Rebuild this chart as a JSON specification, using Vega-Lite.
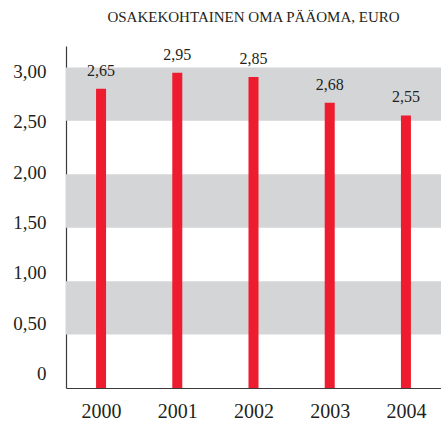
{
  "$schema": "https://vega.github.io/schema/vega-lite/v6.json",
  "width": 375,
  "height": 342,
  "autosize": {"type": "none"},
  "padding": {"left": 66, "top": 46, "right": 0, "bottom": 33},
  "background": "white",
  "config": {
    "view": {"stroke": null},
    "font": "Liberation Serif",
    "text": {"font": "Liberation Serif"}
  },
  "title": {
    "text": "OSAKEKOHTAINEN OMA PÄÄOMA, EURO",
    "font": "Liberation Serif",
    "fontSize": 15,
    "fontWeight": "normal",
    "color": "#231F20",
    "anchor": "middle",
    "baseline": "alphabetic",
    "offset": 9
  },
  "resolve": {"scale": {"y": "independent"}},
  "layer": [
    {
      "data": {"values": [
        {"tick": 0}, {"tick": 0.5}, {"tick": 1.0}, {"tick": 1.5},
        {"tick": 2.0}, {"tick": 2.5}, {"tick": 3.0}
      ]},
      "mark": {"type": "rule", "opacity": 0},
      "encoding": {
        "y": {
          "field": "tick", "type": "quantitative",
          "scale": {"domain": [-0.139, 3.248], "nice": false, "zero": false},
          "axis": {
            "title": null, "ticks": false, "grid": false,
            "values": [0, 0.5, 1, 1.5, 2, 2.5, 3],
            "labelExpr": "datum.value == 0 ? '0' : replace(format(datum.value, '.2f'), '.', ',')",
            "domainColor": "#3a3a3a", "domainWidth": 1.2,
            "labelFont": "Liberation Serif", "labelFontSize": 19,
            "labelColor": "#231F20", "labelPadding": 20
          }
        }
      }
    },
    {
      "data": {"values": [
        {"from": 0.5, "to": 1.0},
        {"from": 1.5, "to": 2.0},
        {"from": 2.5, "to": 3.0}
      ]},
      "mark": {"type": "rect", "color": "#D4D5D7"},
      "encoding": {
        "y": {"field": "from", "type": "quantitative", "scale": {"domain": [0, 3.2], "nice": false, "zero": true}, "axis": null},
        "y2": {"field": "to"}
      }
    },
    {
      "data": {"values": [
        {"year": "2000", "value": 2.80, "label": "2,65"},
        {"year": "2001", "value": 2.95, "label": "2,95"},
        {"year": "2002", "value": 2.91, "label": "2,85"},
        {"year": "2003", "value": 2.67, "label": "2,68"},
        {"year": "2004", "value": 2.55, "label": "2,55"}
      ]},
      "encoding": {
        "x": {
          "field": "year", "type": "ordinal",
          "scale": {"type": "point", "padding": 0.46},
          "axis": {
            "title": null, "labelAngle": 0, "ticks": false,
            "domainColor": "#3a3a3a", "domainWidth": 1.2,
            "labelFont": "Liberation Serif", "labelFontSize": 20,
            "labelColor": "#231F20", "labelPadding": 29, "labelBaseline": "alphabetic"
          }
        },
        "y": {
          "field": "value", "type": "quantitative",
          "scale": {"domain": [0, 3.2], "nice": false},
          "axis": null
        }
      },
      "layer": [
        {"mark": {"type": "bar", "size": 10, "color": "#ED1C2E"}},
        {
          "mark": {"type": "text", "baseline": "alphabetic", "dy": -13, "fontSize": 16, "color": "#231F20", "font": "Liberation Serif"},
          "encoding": {"text": {"field": "label"}}
        }
      ]
    }
  ]
}
